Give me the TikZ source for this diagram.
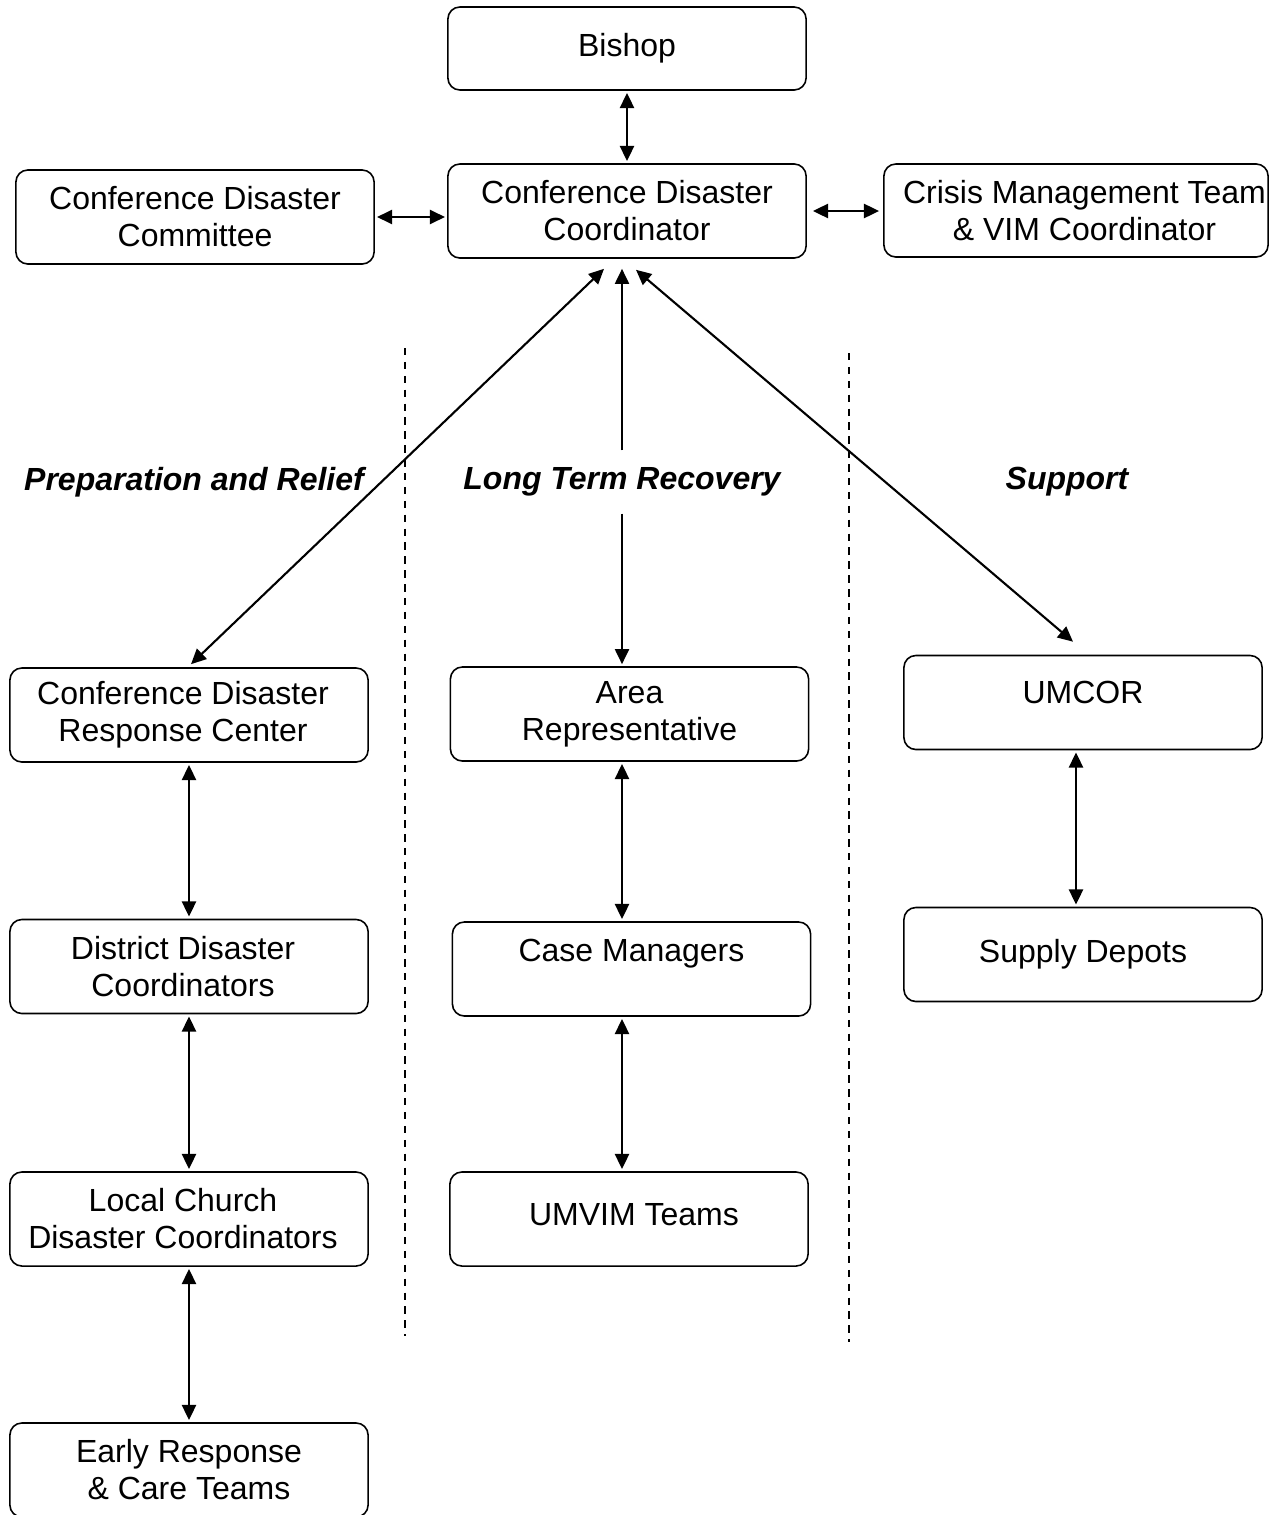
\documentclass[tikz,border=0pt]{standalone}
\usepackage{fontspec}
\setmainfont{Liberation Sans}
\usetikzlibrary{arrows.meta}

\begin{document}
\begin{tikzpicture}[x=0.01cm, y=-0.01cm,
    box/.style={draw, rounded corners=0.12cm, line width=0.45pt, minimum width=3.58cm,
      minimum height=0.94cm, align=center, inner sep=1pt, font=\fontsize{9.1}{10.5}\selectfont},
    phase/.style={font=\fontsize{9.1}{10.5}\selectfont\bfseries\itshape},
    link/.style={{Triangle[length=4.3pt,width=4pt]}-{Triangle[length=4.3pt,width=4pt]},
      line width=0.6pt, shorten <=0.6pt, shorten >=0.6pt},
    oneway/.style={-{Triangle[length=4.3pt,width=4pt]}, line width=0.6pt},
    divider/.style={line width=0.4pt, dash pattern=on 2.1pt off 1.85pt}]
      \useasboundingbox (0,0) rectangle (1278,1515);
      \node[box, minimum height=0.83cm] (bishop) at (627,48.5) {Bishop};
      \node[box] (cdc) at (627,211) {Conference Disaster\\Coordinator};
      \node[box] (committee) at (195,217) {Conference Disaster\\Committee};
      \node[box, minimum width=3.84cm, minimum height=0.93cm, inner xsep=0pt] (crisis) at (1076,210.5)
        {\hspace*{0.17cm}Crisis Management Team\\\hspace*{0.17cm}\& VIM Coordinator};
      \node[box] (cdrc) at (189,715) {Conference Disaster\hspace*{0.12cm}\\Response Center\hspace*{0.12cm}};
      \node[box] (district) at (189,966.5) {District Disaster\hspace*{0.12cm}\\Coordinators\hspace*{0.12cm}};
      \node[box] (local) at (189,1219) {Local Church\hspace*{0.12cm}\\Disaster Coordinators\hspace*{0.12cm}};
      \node[box] (early) at (189,1470) {Early Response\\\& Care Teams};
      \node[box] (area) at (629.5,714) {Area\\Representative};
      \node[box] (case) at (631.5,969) {Case Managers\\\mbox{}};
      \node[box, text depth=0.1cm] (umvim) at (629,1219) {\hspace*{0.1cm}UMVIM Teams};
      \node[box, text depth=0.2cm] (umcor) at (1083,702.5) {UMCOR};
      \node[box] (depots) at (1083,954.5) {Supply Depots};
      \node[phase] (prep) at (194,482) {Preparation and Relief};
      \node[phase, minimum height=0.62cm, inner sep=0pt] (ltr) at (622,482) {Long Term Recovery};
      \node[phase] (support) at (1067,482) {Support};
      \draw[divider] (405,348) -- (405,1336);
      \draw[divider] (849,353) -- (849,1342);
      \draw[link] (bishop) -- (cdc);
      \draw[link] (committee.east) -- (committee.east -| cdc.west);
      \draw[link, shorten <=0.06cm, shorten >=0.04cm] (cdc.east) -- (cdc.east -| crisis.west);
      \draw[link, shorten <=0pt, shorten >=0pt] ([shift={(-23,10)}]cdc.south) -- ([shift={(2,-3)}]cdrc.north);
      \draw[link, shorten <=0pt, shorten >=0pt] ([shift={(9,11)}]cdc.south) -- ([shift={(-10,-13)}]umcor.north);
      \draw[oneway, shorten >=0.1cm] (ltr.north) -- (ltr.north |- cdc.south);
      \draw[oneway, shorten >=0.02cm] (ltr.south) -- (ltr.south |- area.north);
      \draw[link] (cdrc) -- (district);
      \draw[link] (district) -- (local);
      \draw[link] (local) -- (early);
      \draw[link] (area.south -| ltr) -- (case.north -| ltr);
      \draw[link] (case.south -| ltr) -- (umvim.north -| ltr);
      \draw[link] ([xshift=-0.07cm]umcor.south) -- ([xshift=-0.07cm]depots.north);
\end{tikzpicture}
\end{document}
